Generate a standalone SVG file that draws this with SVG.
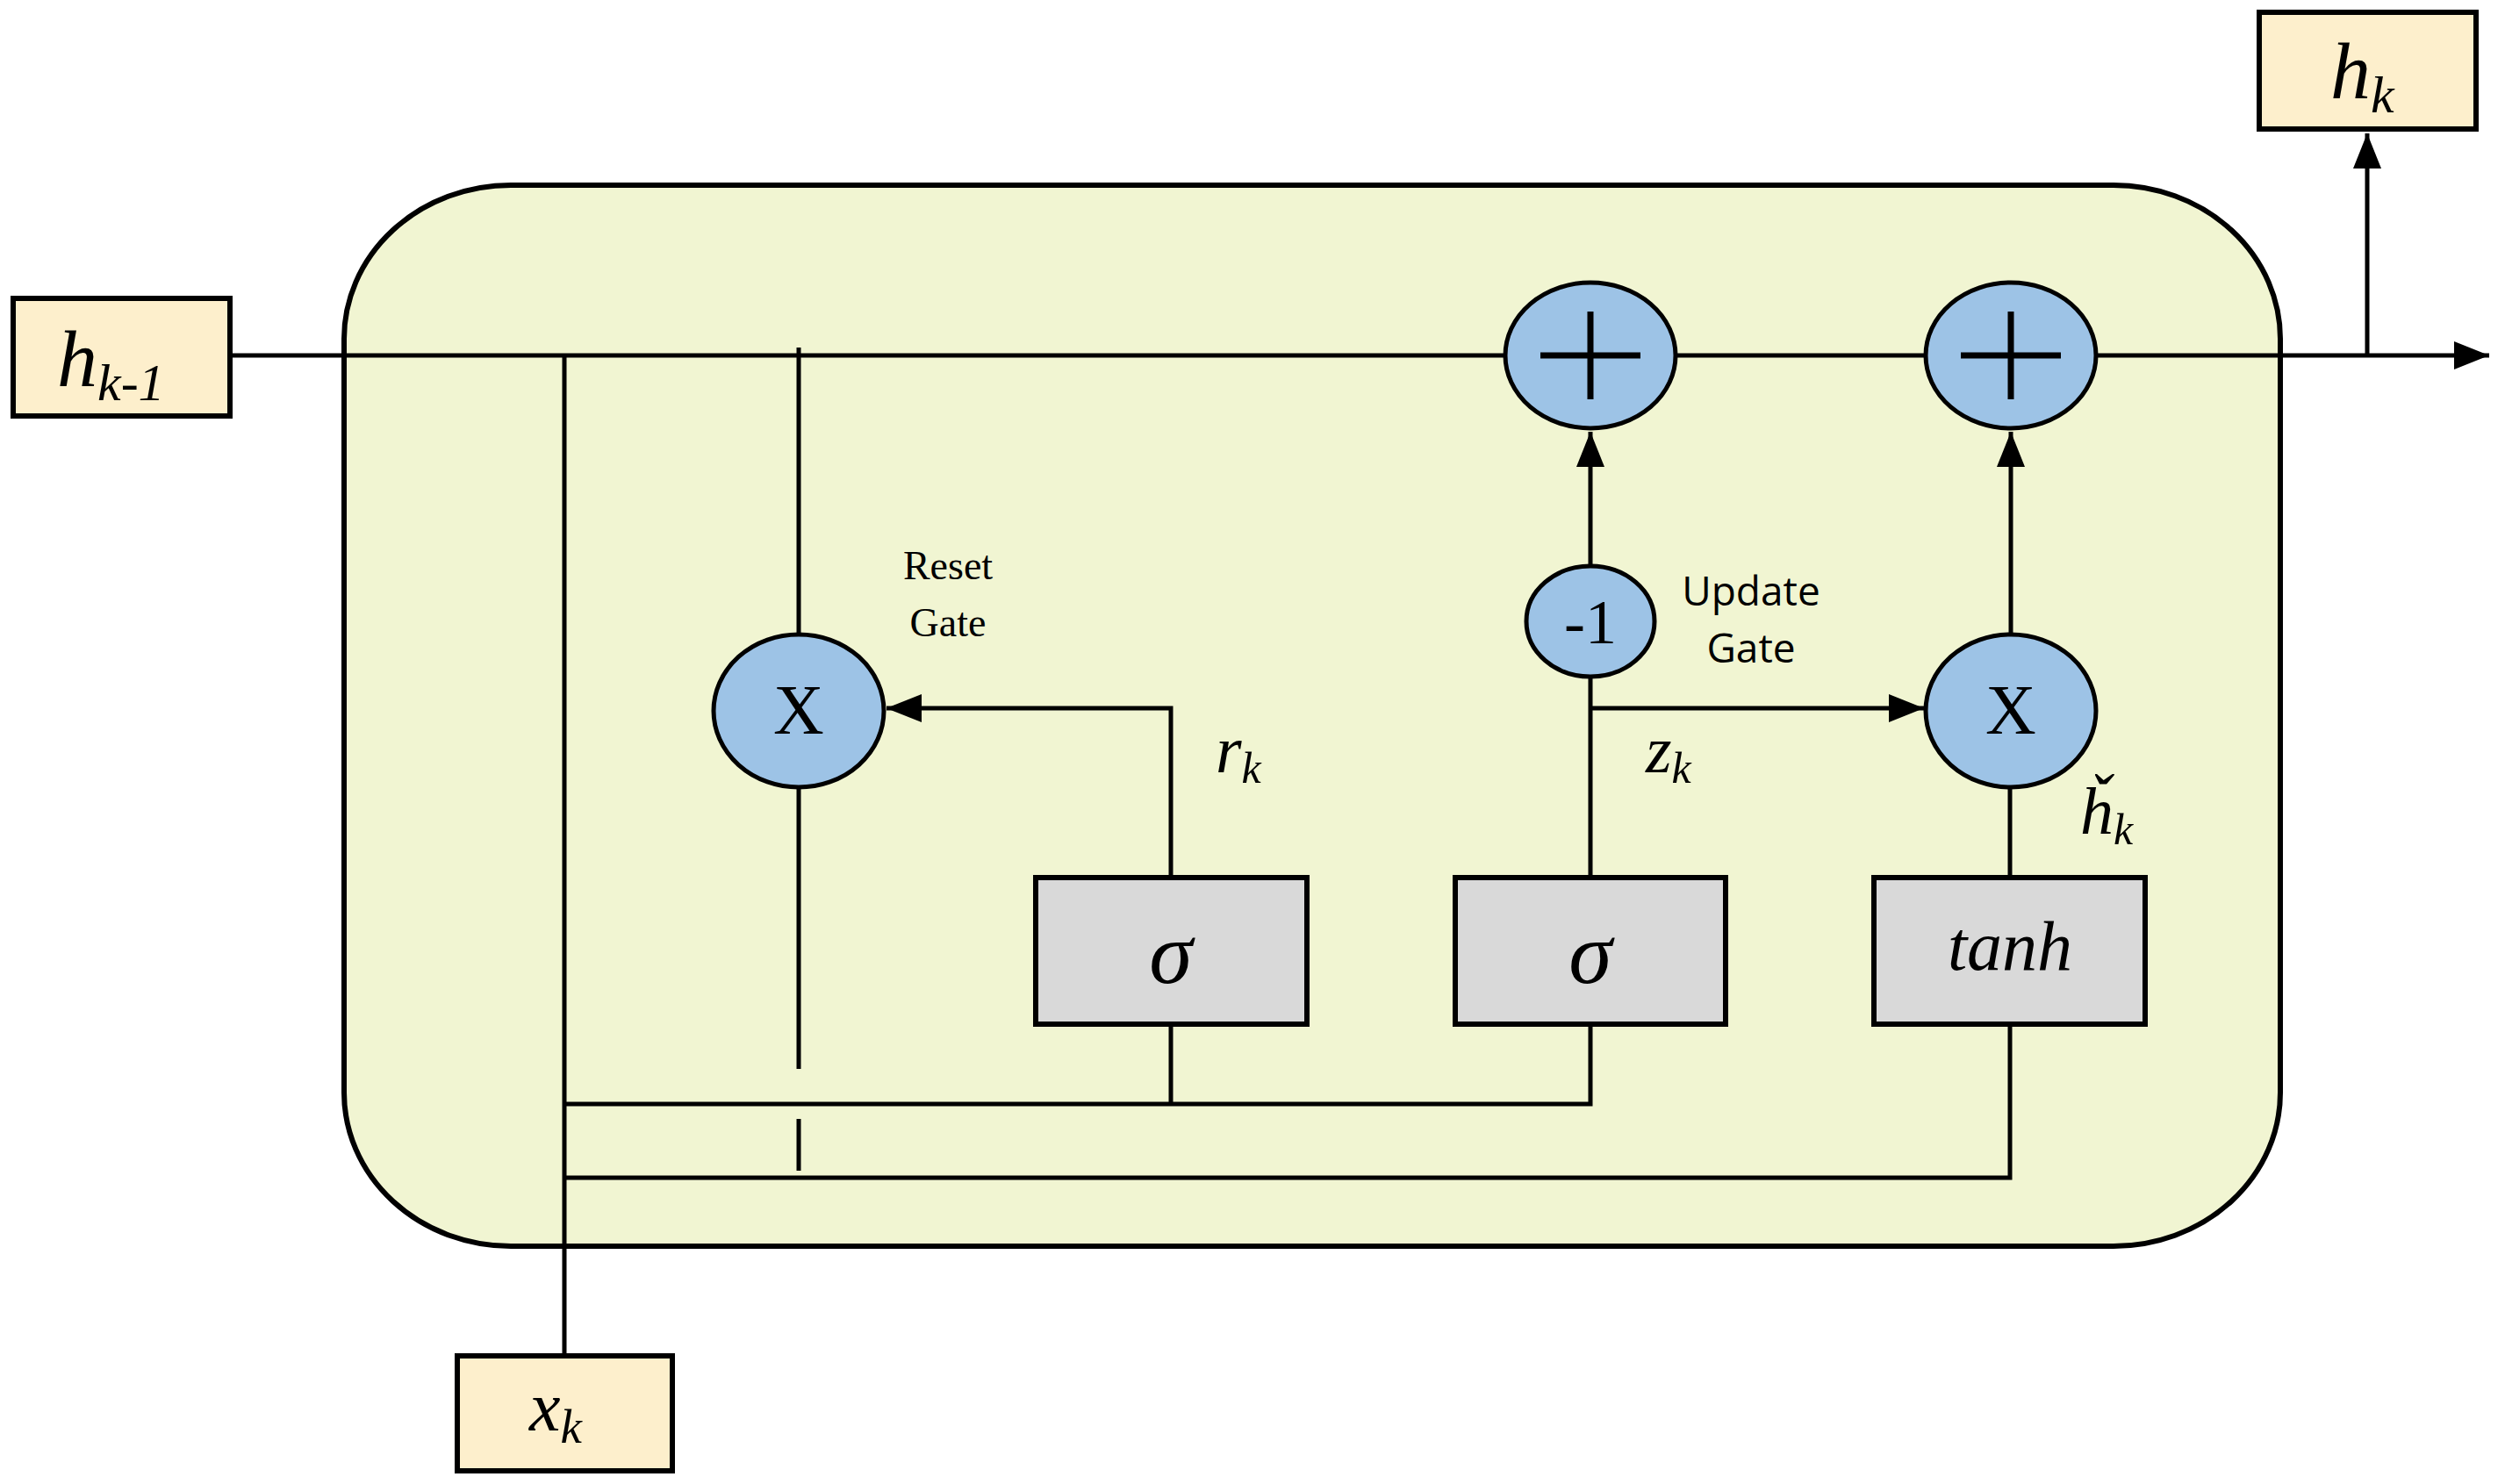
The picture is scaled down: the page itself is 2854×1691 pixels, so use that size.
<svg xmlns="http://www.w3.org/2000/svg" width="2854" height="1691" viewBox="0 0 2854 1691">
<style>
.ln{stroke:#000;stroke-width:5;fill:none}
.io{fill:#fdefcc;stroke:#000;stroke-width:6}
.op{fill:#9dc3e6;stroke:#000;stroke-width:5}
.fn{fill:#d9d9d9;stroke:#000;stroke-width:6}
.it{font-family:"Liberation Serif",serif;font-style:italic;fill:#000}
.sr{font-family:"Liberation Serif",serif;fill:#000}
.ss{font-family:"Open Sans","Liberation Sans",sans-serif;fill:#000}
</style>
<defs>
<marker id="ah" viewBox="0 0 10 10" refX="10" refY="5" markerWidth="9" markerHeight="9" markerUnits="userSpaceOnUse" orient="auto"><path d="M0,0L10,5L0,10z" fill="#000"/></marker>
<marker id="a" viewBox="0 0 10 10" refX="10" refY="5" markerWidth="8" markerHeight="8" orient="auto"><path d="M0,1L10,5L0,9z" fill="#000"/></marker>
</defs>
<g id="cell"><rect x="392" y="211" width="2206" height="1209" rx="190" ry="175" fill="#f1f5d2" stroke="#000" stroke-width="6"/></g>
<g id="connectors">
<path class="ln" d="M262,405H1715M1909,405H2194M2389,405H2836" marker-end="url(#a)"/>
<path class="ln" d="M2697,405V152" marker-end="url(#a)"/>
<path class="ln" d="M643,405V1543"/>
<path class="ln" d="M910,396V723M910,897V1218M910,1275V1334"/>
<path class="ln" d="M1812,645V492" marker-end="url(#a)"/>
<path class="ln" d="M2291,723V492" marker-end="url(#a)"/>
<path class="ln" d="M1812,771V998"/>
<path class="ln" d="M1812,807H2192" marker-end="url(#a)"/>
<path class="ln" d="M1334,998V807H1010" marker-end="url(#a)"/>
<path class="ln" d="M2290,998V897"/>
<path class="ln" d="M1334,1167V1258M1812,1167V1258H643"/>
<path class="ln" d="M2290,1167V1342H643"/>
</g>
<g id="hprev"><rect class="io" x="15" y="340" width="247" height="134"/><text class="it" x="65" y="440" font-size="92">h<tspan font-size="60" dy="16">k-1</tspan></text></g>
<g id="hk"><rect class="io" x="2574" y="14" width="247" height="133"/><text class="it" x="2655" y="112" font-size="92">h<tspan font-size="60" dy="16">k</tspan></text></g>
<g id="xk"><rect class="io" x="521" y="1545" width="245" height="131"/><text class="it" x="603" y="1630" font-size="80">x<tspan font-size="55" dy="14">k</tspan></text></g>
<g id="resetMul"><ellipse class="op" cx="910" cy="810" rx="97" ry="87"/><text class="sr" x="910" y="836" font-size="80" text-anchor="middle">X</text></g>
<g id="plus1"><ellipse class="op" cx="1812" cy="405" rx="97" ry="83"/><path d="M1755,405H1869M1812,355V455" stroke="#000" stroke-width="7"/></g>
<g id="plus2"><ellipse class="op" cx="2291" cy="405" rx="97" ry="83"/><path d="M2234,405H2348M2291,355V455" stroke="#000" stroke-width="7"/></g>
<g id="minus1"><ellipse class="op" cx="1812" cy="708" rx="73" ry="63"/><text class="sr" x="1812" y="733" font-size="72" text-anchor="middle">-1</text></g>
<g id="updMul"><ellipse class="op" cx="2291" cy="810" rx="97" ry="87"/><text class="sr" x="2291" y="836" font-size="80" text-anchor="middle">X</text></g>
<g id="sig1"><rect class="fn" x="1180" y="1000" width="309" height="167"/><text class="it" x="1334" y="1120" font-size="100" text-anchor="middle">σ</text></g>
<g id="sig2"><rect class="fn" x="1658" y="1000" width="308" height="167"/><text class="it" x="1812" y="1120" font-size="100" text-anchor="middle">σ</text></g>
<g id="tanh"><rect class="fn" x="2135" y="1000" width="309" height="167"/><text class="it" x="2290" y="1105" font-size="80" text-anchor="middle">tanh</text></g>
<g id="labels">
<text class="sr" x="1080" y="660" font-size="46" text-anchor="middle">Reset</text>
<text class="sr" x="1080" y="725" font-size="46" text-anchor="middle">Gate</text>
<text class="ss" x="1995" y="690" font-size="46" text-anchor="middle">Update</text>
<text class="ss" x="1995" y="755" font-size="46" text-anchor="middle">Gate</text>
<text class="it" x="1385" y="880" font-size="76">r<tspan font-size="50" dy="12">k</tspan></text>
<text class="it" x="1875" y="880" font-size="76">z<tspan font-size="50" dy="12">k</tspan></text>
<text class="it" x="2370" y="950" font-size="76">ȟ<tspan font-size="50" dy="12">k</tspan></text>
</g>
</svg>
